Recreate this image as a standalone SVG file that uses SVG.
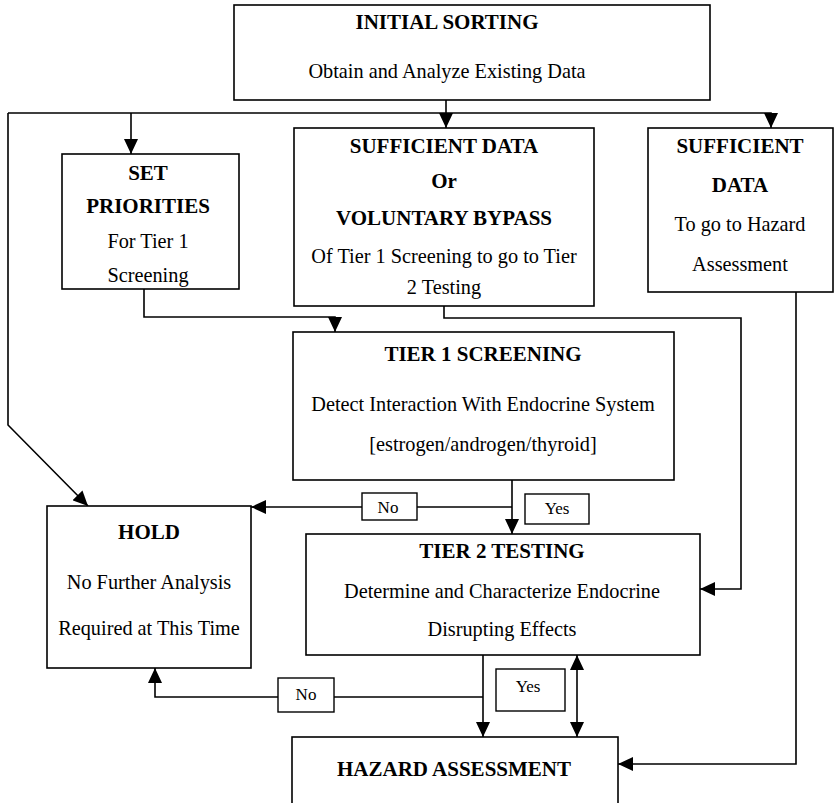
<svg xmlns="http://www.w3.org/2000/svg" width="834" height="803" viewBox="0 0 834 803">
<style>
  .box { fill: #fff; stroke: #000; stroke-width: 1.6; }
  .lbl { fill: #fff; stroke: #000; stroke-width: 1.4; }
  .ln { fill: none; stroke: #000; stroke-width: 1.6; }
  text { font-family: "Liberation Serif", "Times New Roman", serif; font-size: 20.3px; fill: #000; text-anchor: middle; }
  .b { font-weight: bold; font-size: 21px; }
  .s { font-size: 17px; }
</style>
<defs>
  <marker id="ah" markerUnits="userSpaceOnUse" markerWidth="16" markerHeight="14" viewBox="0 0 16 14" refX="15" refY="7" orient="auto-start-reverse">
    <path d="M0,0 L15,7 L0,14 z" fill="#000"/>
  </marker>
</defs>
<rect width="834" height="803" fill="#fff"/>
<g id="connectors">
  <path class="ln" d="M446,100 V128" marker-end="url(#ah)"/>
  <path class="ln" d="M8,113 H771 V128" marker-end="url(#ah)"/>
  <path class="ln" d="M131,113 V154" marker-end="url(#ah)"/>
  <path class="ln" d="M8,113 V425 L88,506" marker-end="url(#ah)"/>
  <path class="ln" d="M144,289 V317 H335 V332" marker-end="url(#ah)"/>
  <path class="ln" d="M444,306 V318 H741 V589 H700" marker-end="url(#ah)"/>
  <path class="ln" d="M796,292 V764 H618" marker-end="url(#ah)"/>
  <path class="ln" d="M512,480 V534" marker-end="url(#ah)"/>
  <path class="ln" d="M512,507 H251" marker-end="url(#ah)"/>
  <path class="ln" d="M483,655 V737" marker-end="url(#ah)"/>
  <path class="ln" d="M483,697 H155 V668" marker-end="url(#ah)"/>
  <path class="ln" d="M577,655 V737" marker-start="url(#ah)" marker-end="url(#ah)"/>
  <g id="label-no-1"><rect class="lbl" x="362" y="493" width="55" height="27"/><text class="s" x="388" y="513">No</text></g>
  <g id="label-yes-1"><rect class="lbl" x="525" y="494" width="64" height="30"/><text class="s" x="557" y="514">Yes</text></g>
  <g id="label-no-2"><rect class="lbl" x="278" y="678" width="56" height="34"/><text class="s" x="306" y="700">No</text></g>
  <g id="label-yes-2"><rect class="lbl" x="496" y="669" width="69" height="42"/><text class="s" x="528" y="692">Yes</text></g>
</g>
<g id="initial-sorting">
  <rect class="box" x="234" y="5" width="476" height="95"/>
  <text class="b" x="447" y="29">INITIAL SORTING</text>
  <text x="447" y="78">Obtain and Analyze Existing Data</text>
</g>
<g id="set-priorities">
  <rect class="box" x="62" y="154" width="177" height="135"/>
  <text class="b" x="148" y="180">SET</text>
  <text class="b" x="148" y="213">PRIORITIES</text>
  <text x="148" y="248">For Tier 1</text>
  <text x="148" y="282">Screening</text>
</g>
<g id="sufficient-data-bypass">
  <rect class="box" x="294" y="128" width="300" height="178"/>
  <text class="b" x="444" y="153">SUFFICIENT DATA</text>
  <text class="b" x="444" y="188">Or</text>
  <text class="b" x="444" y="225">VOLUNTARY BYPASS</text>
  <text x="444" y="263">Of Tier 1 Screening to go to Tier</text>
  <text x="444" y="294">2 Testing</text>
</g>
<g id="sufficient-data-hazard">
  <rect class="box" x="648" y="128" width="185" height="164"/>
  <text class="b" x="740" y="153">SUFFICIENT</text>
  <text class="b" x="740" y="192">DATA</text>
  <text x="740" y="231">To go to Hazard</text>
  <text x="740" y="271">Assessment</text>
</g>
<g id="tier1-screening">
  <rect class="box" x="293" y="332" width="381" height="148"/>
  <text class="b" x="483" y="361">TIER 1 SCREENING</text>
  <text x="483" y="411">Detect Interaction With Endocrine System</text>
  <text x="483" y="451">[estrogen/androgen/thyroid]</text>
</g>
<g id="hold">
  <rect class="box" x="47" y="506" width="204" height="162"/>
  <text class="b" x="149" y="539">HOLD</text>
  <text x="149" y="589">No Further Analysis</text>
  <text x="149" y="635">Required at This Time</text>
</g>
<g id="tier2-testing">
  <rect class="box" x="306" y="534" width="394" height="121"/>
  <text class="b" x="502" y="558">TIER 2 TESTING</text>
  <text x="502" y="598">Determine and Characterize Endocrine</text>
  <text x="502" y="636">Disrupting Effects</text>
</g>
<g id="hazard-assessment">
  <rect class="box" x="292" y="737" width="326" height="80"/>
  <text class="b" x="454" y="776">HAZARD ASSESSMENT</text>
</g>
</svg>
